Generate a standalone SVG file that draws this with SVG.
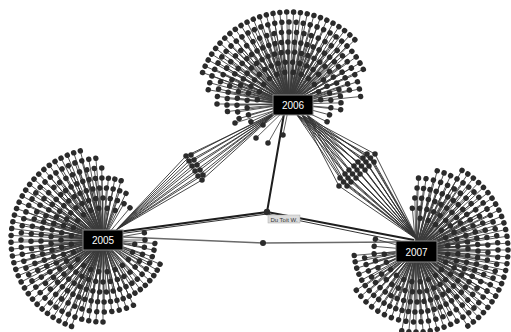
<svg xmlns="http://www.w3.org/2000/svg" xmlns:xlink="http://www.w3.org/1999/xlink" width="511" height="332" viewBox="0 0 511 332">
<style>
.sl{stroke:#3a3a3a;stroke-width:.8}
.lf{fill:#2b2b2b}
.bl{fill:none;stroke:#333;stroke-width:.9}
.hb rect{fill:#000;stroke:#8a8a8a;stroke-width:1}
.hb text{fill:#fff;font-family:"Liberation Sans",Arial,sans-serif;font-size:10px;text-anchor:middle}
</style>
<defs>
<g id="s92"><line class="sl" x2="92"/><circle class="lf" cx="92" r="2.75"/></g>
<g id="s82"><line class="sl" x2="82"/><circle class="lf" cx="82" r="2.75"/></g>
<g id="s72"><line class="sl" x2="72"/><circle class="lf" cx="72" r="2.75"/></g>
<g id="s62"><line class="sl" x2="62"/><circle class="lf" cx="62" r="2.75"/></g>
<g id="s52"><line class="sl" x2="52"/><circle class="lf" cx="52" r="2.75"/></g>
<g id="s42"><line class="sl" x2="42"/><circle class="lf" cx="42" r="2.75"/></g>
<g id="s32"><line class="sl" x2="32"/><circle class="lf" cx="32" r="2.75"/></g>
<g id="w92"><use href="#s92"/><use href="#s92" transform="rotate(4.286)"/><use href="#s92" transform="rotate(8.571)"/><use href="#s92" transform="rotate(12.857)"/><use href="#s92" transform="rotate(17.143)"/><use href="#s92" transform="rotate(21.429)"/><use href="#s92" transform="rotate(25.714)"/></g>
<g id="w82"><use href="#s82"/><use href="#s82" transform="rotate(5)"/><use href="#s82" transform="rotate(10)"/><use href="#s82" transform="rotate(15)"/><use href="#s82" transform="rotate(20)"/><use href="#s82" transform="rotate(25)"/></g>
<g id="w72"><use href="#s72"/><use href="#s72" transform="rotate(6)"/><use href="#s72" transform="rotate(12)"/><use href="#s72" transform="rotate(18)"/><use href="#s72" transform="rotate(24)"/></g>
<g id="w62"><use href="#s62" transform="rotate(3)"/><use href="#s62" transform="rotate(9)"/><use href="#s62" transform="rotate(15)"/><use href="#s62" transform="rotate(21)"/><use href="#s62" transform="rotate(27)"/></g>
<g id="w52"><use href="#s52" transform="rotate(3.75)"/><use href="#s52" transform="rotate(11.25)"/><use href="#s52" transform="rotate(18.75)"/><use href="#s52" transform="rotate(26.25)"/></g>
<g id="w42"><use href="#s42" transform="rotate(5)"/><use href="#s42" transform="rotate(15)"/><use href="#s42" transform="rotate(25)"/></g>
<g id="w32"><use href="#s32" transform="rotate(7.5)"/><use href="#s32" transform="rotate(22.5)"/></g>
</defs>
<rect width="511" height="332" fill="#fff"/>

<g id="connectors">
<path class="bl" d="M116 230L186 156M116 230L189 161M116 230L192 166M116 230L195 171M116 230L198 176M116 230L202 180M116 230L191 155M116 230L194 160M116 230L197 165M116 230L200 170M116 230L203 175M276 113L186 156M276 113L189 161M276 113L192 166M276 113L195 171M276 113L198 176M276 113L202 180M279 110L191 155M279 110L194 160M279 110L197 165M279 110L200 170M279 110L203 175"/>
<path class="bl" d="M297 115L340 178M297 115L345 174M297 115L349 170M297 115L354 166M297 115L358 162M297 115L363 158M297 115L367 154M302 115L339 186M302 115L343.5 182M302 115L348 178M302 115L352.5 174M302 115L357 170M302 115L361.5 166M302 115L366 162M302 115L370.5 158M302 115L375 154M307 115L347 186M307 115L351 182M307 115L356 178M307 115L360 174M307 115L365 170M307 115L369 166M307 115L374 162M418 240L340 178M418 240L345 174M418 240L349 170M418 240L354 166M418 240L358 162M418 240L363 158M418 240L367 154M418 240L339 186M418 240L343.5 182M418 240L348 178M418 240L352.5 174M418 240L357 170M418 240L361.5 166M418 240L366 162M418 240L370.5 158M418 240L375 154M418 240L347 186M418 240L351 182M418 240L356 178M418 240L360 174M418 240L365 170M418 240L369 166M418 240L374 162"/>
<path d="M118 232L267 212L284 114M267 212L414 240" fill="none" stroke="#1e1e1e" stroke-width="2"/>
<path d="M118 234L267 214L404 242" fill="none" stroke="#333" stroke-width="1"/>
<path d="M123 237L263 243L396 242" fill="none" stroke="#6a6a6a" stroke-width="1.3"/>
</g>

<g id="fan2006" transform="translate(289,104)">
<use href="#w92" transform="rotate(200)"/><use href="#w92" transform="rotate(230)"/><use href="#w92" transform="rotate(260)"/><use href="#w92" transform="rotate(290)"/>
<use href="#w82" transform="rotate(190)"/><use href="#w82" transform="rotate(220)"/><use href="#w82" transform="rotate(250)"/><use href="#w82" transform="rotate(280)"/><use href="#w82" transform="rotate(310)"/>
<use href="#w72" transform="rotate(180)"/><use href="#w72" transform="rotate(210)"/><use href="#w72" transform="rotate(240)"/><use href="#w72" transform="rotate(270)"/><use href="#w72" transform="rotate(300)"/><use href="#w72" transform="rotate(330)"/>
<use href="#w62" transform="rotate(170)"/><use href="#w62" transform="rotate(200)"/><use href="#w62" transform="rotate(230)"/><use href="#w62" transform="rotate(260)"/><use href="#w62" transform="rotate(290)"/><use href="#w62" transform="rotate(320)"/>
<use href="#w52" transform="rotate(160)"/><use href="#w52" transform="rotate(190)"/><use href="#w52" transform="rotate(220)"/><use href="#w52" transform="rotate(250)"/><use href="#w52" transform="rotate(280)"/><use href="#w52" transform="rotate(310)"/><use href="#w52" transform="rotate(340)"/>
<use href="#w42" transform="rotate(150)"/><use href="#w42" transform="rotate(180)"/><use href="#w42" transform="rotate(210)"/><use href="#w42" transform="rotate(240)"/><use href="#w42" transform="rotate(270)"/><use href="#w42" transform="rotate(300)"/><use href="#w42" transform="rotate(330)"/><use href="#w42" transform="rotate(360)"/>
<use href="#w32" transform="rotate(180)"/><use href="#w32" transform="rotate(210)"/><use href="#w32" transform="rotate(240)"/><use href="#w32" transform="rotate(270)"/><use href="#w32" transform="rotate(300)"/><use href="#w32" transform="rotate(330)"/>
</g>
<g id="leaves2006down">
<path class="sl" d="M289 106L235 123M289 106L256 138M289 106L268 143M289 106L283 135M289 106L263 125"/>
<circle class="lf" cx="235" cy="123" r="2.75"/><circle class="lf" cx="256" cy="138" r="2.75"/><circle class="lf" cx="268" cy="143" r="2.75"/><circle class="lf" cx="283" cy="135" r="2.75"/><circle class="lf" cx="263" cy="125" r="2.75"/>
</g>

<g id="fan2005" transform="translate(103,240)">
<use href="#w92" transform="rotate(110)"/><use href="#w92" transform="rotate(140)"/><use href="#w92" transform="rotate(170)"/><use href="#w92" transform="rotate(200)"/><use href="#w92" transform="rotate(230)"/>
<use href="#w82" transform="rotate(90)"/><use href="#w82" transform="rotate(120)"/><use href="#w82" transform="rotate(150)"/><use href="#w82" transform="rotate(180)"/><use href="#w82" transform="rotate(210)"/><use href="#w82" transform="rotate(240)"/>
<use href="#w72" transform="rotate(65)"/><use href="#w72" transform="rotate(95)"/><use href="#w72" transform="rotate(125)"/><use href="#w72" transform="rotate(155)"/><use href="#w72" transform="rotate(185)"/><use href="#w72" transform="rotate(215)"/><use href="#w72" transform="rotate(245)"/>
<use href="#w62" transform="rotate(20)"/><use href="#w62" transform="rotate(50)"/><use href="#w62" transform="rotate(80)"/><use href="#w62" transform="rotate(110)"/><use href="#w62" transform="rotate(140)"/><use href="#w62" transform="rotate(170)"/><use href="#w62" transform="rotate(200)"/><use href="#w62" transform="rotate(230)"/><use href="#w62" transform="rotate(260)"/>
<use href="#w52" transform="rotate(0)"/><use href="#w52" transform="rotate(30)"/><use href="#w52" transform="rotate(60)"/><use href="#w52" transform="rotate(90)"/><use href="#w52" transform="rotate(120)"/><use href="#w52" transform="rotate(150)"/><use href="#w52" transform="rotate(180)"/><use href="#w52" transform="rotate(210)"/><use href="#w52" transform="rotate(240)"/><use href="#w52" transform="rotate(270)"/>
<use href="#w42" transform="rotate(-15)"/><use href="#w42" transform="rotate(15)"/><use href="#w42" transform="rotate(45)"/><use href="#w42" transform="rotate(75)"/><use href="#w42" transform="rotate(105)"/><use href="#w42" transform="rotate(135)"/><use href="#w42" transform="rotate(165)"/><use href="#w42" transform="rotate(195)"/><use href="#w42" transform="rotate(225)"/><use href="#w42" transform="rotate(255)"/><use href="#w42" transform="rotate(285)"/>
<use href="#w32" transform="rotate(0)"/><use href="#w32" transform="rotate(30)"/><use href="#w32" transform="rotate(60)"/><use href="#w32" transform="rotate(90)"/><use href="#w32" transform="rotate(120)"/><use href="#w32" transform="rotate(150)"/><use href="#w32" transform="rotate(180)"/><use href="#w32" transform="rotate(210)"/><use href="#w32" transform="rotate(240)"/><use href="#w32" transform="rotate(270)"/>
</g>

<g id="fan2007" transform="translate(416,250)">
<use href="#w92" transform="rotate(-60)"/><use href="#w92" transform="rotate(-30)"/><use href="#w92" transform="rotate(0)"/><use href="#w92" transform="rotate(30)"/>
<use href="#w82" transform="rotate(-75)"/><use href="#w82" transform="rotate(-45)"/><use href="#w82" transform="rotate(-15)"/><use href="#w82" transform="rotate(15)"/><use href="#w82" transform="rotate(45)"/><use href="#w82" transform="rotate(75)"/>
<use href="#w72" transform="rotate(-88)"/><use href="#w72" transform="rotate(-58)"/><use href="#w72" transform="rotate(-28)"/><use href="#w72" transform="rotate(2)"/><use href="#w72" transform="rotate(32)"/><use href="#w72" transform="rotate(62)"/><use href="#w72" transform="rotate(92)"/><use href="#w72" transform="rotate(122)"/>
<use href="#w62" transform="rotate(-92)"/><use href="#w62" transform="rotate(-62)"/><use href="#w62" transform="rotate(-32)"/><use href="#w62" transform="rotate(-2)"/><use href="#w62" transform="rotate(28)"/><use href="#w62" transform="rotate(58)"/><use href="#w62" transform="rotate(88)"/><use href="#w62" transform="rotate(118)"/><use href="#w62" transform="rotate(148)"/>
<use href="#w52" transform="rotate(-95)"/><use href="#w52" transform="rotate(-65)"/><use href="#w52" transform="rotate(-35)"/><use href="#w52" transform="rotate(-5)"/><use href="#w52" transform="rotate(25)"/><use href="#w52" transform="rotate(55)"/><use href="#w52" transform="rotate(85)"/><use href="#w52" transform="rotate(115)"/><use href="#w52" transform="rotate(145)"/>
<use href="#w42" transform="rotate(-100)"/><use href="#w42" transform="rotate(-70)"/><use href="#w42" transform="rotate(-40)"/><use href="#w42" transform="rotate(-10)"/><use href="#w42" transform="rotate(20)"/><use href="#w42" transform="rotate(50)"/><use href="#w42" transform="rotate(80)"/><use href="#w42" transform="rotate(110)"/><use href="#w42" transform="rotate(140)"/><use href="#w42" transform="rotate(170)"/>
<use href="#w32" transform="rotate(-90)"/><use href="#w32" transform="rotate(-60)"/><use href="#w32" transform="rotate(-30)"/><use href="#w32" transform="rotate(0)"/><use href="#w32" transform="rotate(30)"/><use href="#w32" transform="rotate(60)"/><use href="#w32" transform="rotate(90)"/><use href="#w32" transform="rotate(120)"/><use href="#w32" transform="rotate(150)"/>
</g>

<g id="cluster2005-2006" class="lf">
<circle cx="186" cy="156" r="2.75"/><circle cx="189" cy="161" r="2.75"/><circle cx="192" cy="166" r="2.75"/><circle cx="195" cy="171" r="2.75"/><circle cx="198" cy="176" r="2.75"/><circle cx="202" cy="180" r="2.75"/><circle cx="191" cy="155" r="2.75"/><circle cx="194" cy="160" r="2.75"/><circle cx="197" cy="165" r="2.75"/><circle cx="200" cy="170" r="2.75"/><circle cx="203" cy="175" r="2.75"/>
</g>
<g id="cluster2006-2007" class="lf">
<circle cx="340" cy="178" r="2.75"/><circle cx="345" cy="174" r="2.75"/><circle cx="349" cy="170" r="2.75"/><circle cx="354" cy="166" r="2.75"/><circle cx="358" cy="162" r="2.75"/><circle cx="363" cy="158" r="2.75"/><circle cx="367" cy="154" r="2.75"/>
<circle cx="339" cy="186" r="2.75"/><circle cx="343.5" cy="182" r="2.75"/><circle cx="348" cy="178" r="2.75"/><circle cx="352.5" cy="174" r="2.75"/><circle cx="357" cy="170" r="2.75"/><circle cx="361.5" cy="166" r="2.75"/><circle cx="366" cy="162" r="2.75"/><circle cx="370.5" cy="158" r="2.75"/><circle cx="375" cy="154" r="2.75"/>
<circle cx="347" cy="186" r="2.75"/><circle cx="351" cy="182" r="2.75"/><circle cx="356" cy="178" r="2.75"/><circle cx="360" cy="174" r="2.75"/><circle cx="365" cy="170" r="2.75"/><circle cx="369" cy="166" r="2.75"/><circle cx="374" cy="162" r="2.75"/>
</g>

<g id="mid2005-2007"><circle class="lf" cx="263" cy="243" r="3"/></g>
<g id="dutoit">
<circle class="lf" cx="267" cy="212" r="3.2"/>
<rect x="268" y="215" width="32" height="8" fill="#dcdcdc" stroke="#aaa" stroke-width=".5"/>
<text x="284" y="221.5" font-family="Liberation Sans, Arial, sans-serif" font-size="6" fill="#333" text-anchor="middle">Du Toit W.</text>
</g>

<g id="n2006" class="hb"><rect x="273" y="95" width="40" height="20"/><text x="293" y="109">2006</text></g>
<g id="n2005" class="hb"><rect x="83" y="230" width="40" height="20"/><text x="103" y="244">2005</text></g>
<g id="n2007" class="hb"><rect x="396" y="241" width="41" height="21"/><text x="416.5" y="255.5">2007</text></g>
</svg>
